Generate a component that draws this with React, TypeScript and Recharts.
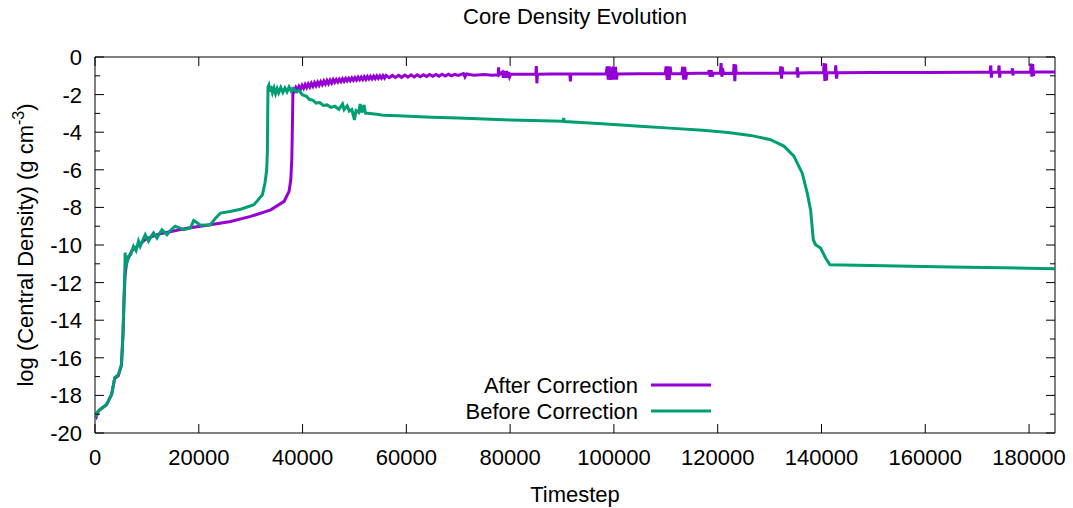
import { LineChart, Line, XAxis, YAxis, ReferenceArea, Legend } from "recharts";

const FONT = "Arial, 'Liberation Sans', sans-serif";
const W = 1073;
const H = 508;
// plot box, in px
const PLOT_LEFT = 95;
const PLOT_RIGHT = 1055;
const PLOT_TOP = 57;
const PLOT_BOTTOM = 433;

const X_MAX = 185000;
const xTicks = [0, 20000, 40000, 60000, 80000, 100000, 120000, 140000, 160000, 180000];
const yTicks = [-20, -19, -18, -17, -16, -15, -14, -13, -12, -11, -10, -9, -8, -7, -6, -5, -4, -3, -2, -1, 0];

// After Correction: [timestep, log rho]
const afterPoints: [number, number][] = [
  [0, -18.9], [300, -19.1], [600, -18.85], [1000, -18.75], [2200, -18.5], [3200, -17.95], [3800, -17.1],
  [4500, -16.95], [5100, -16.4], [5400, -14.8], [5600, -12.9], [5800, -11.6], [6100, -10.9], [7100, -10.3],
  [8000, -10.1], [8700, -9.95], [9700, -9.7], [10600, -9.6], [11500, -9.5], [12500, -9.4], [13500, -9.35],
  [14500, -9.3], [16000, -9.2], [18000, -9.1], [20300, -9.0], [22250, -8.92], [26130, -8.75], [30000, -8.48],
  [33870, -8.13], [36440, -7.68], [37400, -7.15], [37740, -6.5], [37930, -5.4], [38050, -3.5], [38150, -1.75],
  // noisy rise after the jump
  [38400, -1.82], [38700, -1.62], [39000, -1.77], [39300, -1.57], [39600, -1.72], [39900, -1.51],
  [40200, -1.66], [40500, -1.46], [40800, -1.62], [41100, -1.43], [41400, -1.59], [41700, -1.4],
  [42000, -1.56], [42300, -1.37], [42600, -1.53], [42900, -1.34], [43200, -1.5], [43500, -1.31],
  [43800, -1.47], [44100, -1.28], [44400, -1.44], [44700, -1.25], [45000, -1.42], [45300, -1.23],
  [45600, -1.39], [45900, -1.2], [46200, -1.35], [46500, -1.2], [46800, -1.33], [47100, -1.18],
  [47400, -1.31], [47700, -1.16], [48000, -1.29], [48300, -1.14], [48600, -1.27], [48900, -1.13],
  [49200, -1.26], [49500, -1.11], [49800, -1.24], [50100, -1.1], [50400, -1.23], [50700, -1.08],
  [51000, -1.21], [51300, -1.07], [51600, -1.2], [51900, -1.05], [52200, -1.19], [52500, -1.04],
  [52800, -1.17], [53100, -1.03], [53400, -1.16], [53700, -1.02], [54000, -1.15], [54300, -1.01],
  [54600, -1.14], [54900, -1.0], [55200, -1.13], [55500, -0.99], [55800, -1.12], [56100, -0.98],
  [56700, -1.1], [57300, -0.98], [57900, -1.09], [58500, -0.97], [59100, -1.08], [59700, -0.96],
  [60300, -1.07], [60900, -0.95], [61500, -1.06], [62100, -0.95], [62700, -1.05], [63300, -0.94],
  [63900, -1.04], [64500, -0.93], [65100, -1.03], [65700, -0.93], [66300, -1.02], [66900, -0.92],
  [67500, -1.01], [68100, -0.92], [68700, -1.0], [69300, -0.92], [70000, -0.98],
  // plateau with bursts
  [71000, -0.88], [71300, -1.06], [71600, -0.9], [73000, -0.97], [75000, -0.93], [76500, -0.97],
  [77700, -0.95], [77780, -0.55], [77860, -0.95],
  [78500, -0.8], [78700, -1.1], [78900, -0.75], [79100, -1.1], [79300, -0.75], [79500, -1.1],
  [79700, -0.8], [79900, -1.05], [80100, -0.92], [82000, -0.92],
  [84950, -0.92], [85050, -0.48], [85150, -1.4], [85250, -0.92], [88000, -0.9],
  [91500, -0.9], [91610, -1.3], [91720, -0.9], [95000, -0.9], [98500, -0.9],
  [98700, -0.5], [98900, -1.2], [99100, -0.5], [99300, -1.22], [99500, -0.55], [99700, -1.2],
  [99900, -0.5], [100100, -1.2], [100300, -0.52], [100500, -1.2], [100650, -0.9], [105000, -0.89],
  [109900, -0.89], [110050, -0.5], [110250, -1.22], [110450, -0.5], [110650, -1.22], [110850, -0.52],
  [111000, -0.89], [113100, -0.88], [113250, -0.52], [113450, -1.2], [113650, -0.52], [113850, -1.2],
  [114000, -0.88], [116000, -0.87], [118200, -0.87], [118350, -0.7], [118550, -1.05], [118750, -0.7],
  [118950, -1.05], [119100, -0.87], [120500, -0.87], [120650, -0.32], [120800, -1.05], [120950, -0.6],
  [121100, -0.87], [123050, -0.86], [123150, -0.38], [123300, -1.28], [123450, -0.4], [123550, -0.86],
  [128000, -0.86], [132050, -0.85], [132150, -0.5], [132300, -1.15], [132450, -0.52], [132550, -0.85],
  [135250, -0.85], [135350, -0.55], [135450, -1.1], [135550, -0.85], [138000, -0.84],
  [140400, -0.84], [140500, -0.33], [140650, -1.27], [140800, -0.35], [140950, -1.25], [141050, -0.84],
  [142650, -0.84], [142750, -0.45], [142900, -1.15], [143050, -0.84], [150000, -0.83], [160000, -0.82],
  [170000, -0.81], [172500, -0.81], [172620, -0.45], [172740, -1.1], [172850, -0.81],
  [174100, -0.81], [174220, -0.45], [174340, -1.1], [174450, -0.81],
  [176700, -0.81], [176800, -0.6], [176900, -0.98], [177000, -0.81],
  [180300, -0.8], [180400, -0.35], [180550, -1.05], [180700, -0.38], [180850, -1.0], [180950, -0.8],
  [185000, -0.8],
];

// Before Correction: [timestep, log rho]
const beforePoints: [number, number][] = [
  [0, -18.95], [300, -19.05], [600, -18.85], [1000, -18.75], [2200, -18.5], [3200, -17.95], [3800, -17.05],
  [4500, -16.9], [5100, -16.35], [5400, -14.6], [5600, -12.8], [5750, -11.3], [5820, -10.4], [5900, -11.2],
  [6200, -10.9], [6450, -10.6], [6900, -10.5], [7410, -10.07], [7900, -10.3], [8380, -9.8], [8710, -10.07],
  [9200, -9.75], [9680, -9.45], [10310, -9.8], [10800, -9.55], [11280, -9.36], [11940, -9.63], [12400, -9.4],
  [12910, -9.19], [13870, -9.45], [14600, -9.2], [15480, -9.0], [17090, -9.19], [18380, -9.1], [19020, -8.7],
  [19600, -8.8], [20320, -8.95], [22250, -8.92], [23220, -8.57], [24190, -8.3], [26000, -8.22], [28060, -8.1],
  [30630, -7.86], [32260, -7.33], [32760, -6.7], [33090, -6.0], [33220, -5.0], [33280, -3.0], [33340, -1.6],
  [33500, -1.5], [33700, -1.85], [33900, -1.55], [34200, -1.9], [34500, -1.65], [34800, -1.95], [35100, -1.68],
  [35400, -1.9], [35800, -1.62], [36200, -1.88], [36600, -1.65], [37000, -1.85], [37400, -1.6], [37800, -1.82],
  [38300, -1.68], [38800, -1.85], [39300, -1.78], [40000, -2.02], [40700, -2.08], [41300, -2.25], [42000, -2.3],
  [42600, -2.45], [43300, -2.42], [44000, -2.58], [44700, -2.55], [45470, -2.68], [46200, -2.62], [47000, -2.78],
  [47700, -2.5], [48000, -2.8], [48600, -2.6], [49000, -2.88], [49500, -2.8], [50000, -3.35], [50300, -2.85],
  [50800, -2.95], [51100, -2.5], [51400, -2.95], [51850, -2.55], [52100, -2.98], [53000, -3.0], [54300, -3.05],
  [55500, -3.1], [58400, -3.13], [64840, -3.2], [70000, -3.25], [80000, -3.35], [90200, -3.42], [90320, -3.25],
  [90440, -3.43], [97700, -3.55], [105000, -3.68], [110000, -3.77], [117070, -3.9], [122000, -4.02],
  [126320, -4.17], [130180, -4.4], [132750, -4.74], [134680, -5.27], [136290, -6.18], [137260, -7.24],
  [137900, -8.13], [138420, -9.72], [138860, -9.98], [139820, -10.16], [140790, -10.69], [141620, -11.05],
  [152030, -11.1], [164890, -11.17], [185000, -11.26],
];

const afterData = afterPoints.map(([step, rho]) => ({ step, rho }));
const beforeData = beforePoints.map(([step, rho]) => ({ step, rho }));

function XTick(props: any) {
  const { x, payload } = props;
  return (
    <g>
      <line x1={x} x2={x} y1={PLOT_BOTTOM} y2={PLOT_BOTTOM - 9} stroke="#000" />
      <line x1={x} x2={x} y1={PLOT_TOP} y2={PLOT_TOP + 9} stroke="#000" />
      <text x={x} y={PLOT_BOTTOM + 32} textAnchor="middle" fontSize={22} fontFamily={FONT} fill="#000">
        {String(payload.value)}
      </text>
    </g>
  );
}

function YTick(props: any) {
  const { y, payload } = props;
  const major = payload.value % 2 === 0;
  const len = major ? 9 : 5;
  return (
    <g>
      <line x1={PLOT_LEFT} x2={PLOT_LEFT + len} y1={y} y2={y} stroke="#000" />
      <line x1={PLOT_RIGHT - len} x2={PLOT_RIGHT} y1={y} y2={y} stroke="#000" />
      {major && (
        <text x={82} y={y + 8} textAnchor="end" fontSize={22} fontFamily={FONT} fill="#000">
          {String(payload.value)}
        </text>
      )}
    </g>
  );
}

function YLabel(props: any) {
  const vb = props.viewBox ?? { y: PLOT_TOP, height: PLOT_BOTTOM - PLOT_TOP };
  const cy = vb.y + vb.height / 2;
  return (
    <text
      transform={`translate(33, ${cy}) rotate(-90)`}
      x={0}
      y={0}
      textAnchor="middle"
      fontSize={22}
      fontFamily={FONT}
      fill="#000"
    >
      log (Central Density) (g cm
      <tspan dy={-9} fontSize={16}>-3</tspan>
      <tspan dy={9} fontSize={22}>)</tspan>
    </text>
  );
}

function KeyBox(props: any) {
  const items = props.payload ?? [];
  return (
    <svg width={300} height={56} style={{ display: "block", overflow: "visible" }}>
      {items.map((it: any, i: number) => (
        <g key={it.value}>
          <text x={218} y={14 + i * 26 + 8} textAnchor="end" fontSize={22} fontFamily={FONT} fill="#000">
            {it.value}
          </text>
          <line x1={231} x2={291} y1={14 + i * 26} y2={14 + i * 26} stroke={it.color} strokeWidth={3} />
        </g>
      ))}
    </svg>
  );
}

export default function App() {
  return (
    <div style={{ position: "absolute", left: 0, top: 0, width: W, height: H, background: "#fff" }}>
      <div
        style={{
          position: "absolute",
          left: PLOT_LEFT,
          width: PLOT_RIGHT - PLOT_LEFT,
          top: 5,
          textAlign: "center",
          fontFamily: FONT,
          fontSize: 22,
          lineHeight: "24px",
        }}
      >
        Core Density Evolution
      </div>
      <LineChart width={W} height={H} margin={{ top: PLOT_TOP, right: W - PLOT_RIGHT, bottom: 0, left: 0 }}>
        <XAxis
          type="number"
          dataKey="step"
          domain={[0, X_MAX]}
          ticks={xTicks}
          interval={0}
          allowDataOverflow
          height={H - PLOT_BOTTOM}
          tickSize={0}
          tickMargin={0}
          tickLine={false}
          axisLine={false}
          tick={<XTick />}
          label={{ value: "Timestep", position: "insideBottom", offset: 6, fontSize: 22, fontFamily: FONT, fill: "#000" }}
        />
        <YAxis
          type="number"
          domain={[-20, 0]}
          ticks={yTicks}
          interval={0}
          allowDataOverflow
          width={PLOT_LEFT}
          tickSize={0}
          tickMargin={0}
          tickLine={false}
          axisLine={false}
          tick={<YTick />}
          label={<YLabel />}
        />
        <Legend
          layout="vertical"
          align="center"
          verticalAlign="middle"
          content={<KeyBox />}
          wrapperStyle={{ position: "absolute", left: 420, top: 371, width: 300 }}
        />
        <Line
          data={afterData}
          dataKey="rho"
          name="After Correction"
          type="linear"
          stroke="#9400D3"
          strokeWidth={3}
          dot={false}
          activeDot={false}
          isAnimationActive={false}
        />
        <Line
          data={beforeData}
          dataKey="rho"
          name="Before Correction"
          type="linear"
          stroke="#009E73"
          strokeWidth={3}
          dot={false}
          activeDot={false}
          isAnimationActive={false}
        />
        <ReferenceArea x1={0} x2={X_MAX} y1={-20} y2={0} fill="none" stroke="#000" strokeWidth={1} ifOverflow="visible" />
      </LineChart>
    </div>
  );
}
